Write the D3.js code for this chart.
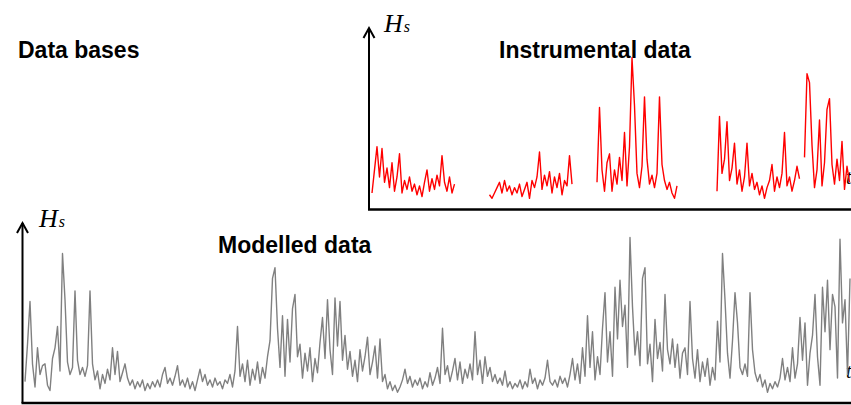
<!DOCTYPE html>
<html>
<head>
<meta charset="utf-8">
<script src="https://cdn.jsdelivr.net/npm/d3@7"></script>
<style>
  body { margin: 0; background: #fff; }
  svg { display: block; }
  .title { font-family: "Liberation Sans", Arial, sans-serif; font-weight: bold; font-size: 23px; fill: #000; }
  .hs { font-family: "Liberation Serif", "Times New Roman", serif; font-style: italic; fill: #000; }
</style>
</head>
<body>
<div id="chart"></div>
<script>
// Modelled Hs (grey), one value per time step, metres
const modelledHs = [
  1.2, 3.3, 5.7, 2.2, 0.9, 3.1, 1.6, 2.1, 2.2, 1.0, 0.7, 2.5, 3.1, 4.3, 1.8, 8.4, 5.8, 2.3, 1.6, 2.0,
  6.3, 2.4, 1.6, 2.0, 1.5, 2.1, 6.3, 2.2, 1.3, 1.8, 0.8, 1.6, 1.1, 1.9, 1.3, 3.1, 1.6, 2.9, 1.2, 1.7,
  2.2, 1.4, 1.0, 1.3, 0.8, 1.2, 0.9, 1.3, 0.7, 1.1, 0.8, 1.2, 0.9, 1.3, 0.9, 1.6, 2.0, 1.1, 1.4, 1.0,
  1.5, 2.1, 1.0, 1.3, 0.9, 1.4, 0.8, 1.2, 0.7, 1.3, 1.9, 1.2, 1.6, 1.0, 1.3, 0.9, 1.4, 1.0, 1.2, 0.8,
  1.3, 1.1, 1.6, 0.9, 1.8, 4.3, 1.5, 2.2, 1.2, 2.4, 1.0, 1.9, 1.3, 2.3, 1.1, 2.0, 1.4, 2.6, 3.5, 7.0,
  7.6, 4.2, 2.0, 4.9, 1.5, 4.7, 2.3, 5.3, 6.1, 2.6, 3.3, 1.4, 2.8, 1.8, 3.1, 1.2, 2.5, 1.7, 3.4, 4.8,
  2.5, 5.8, 3.0, 1.6, 5.9, 3.2, 5.7, 2.4, 3.8, 1.9, 2.9, 1.5, 2.4, 1.2, 3.0, 1.8, 2.6, 3.7, 1.6, 2.3,
  3.2, 1.4, 3.6, 1.2, 1.6, 0.8, 1.2, 0.7, 1.0, 0.6, 0.9, 1.3, 1.9, 1.1, 1.5, 0.9, 1.3, 1.0, 1.4, 0.8,
  1.2, 0.9, 1.7, 1.0, 1.4, 2.0, 1.1, 4.2, 1.6, 2.1, 1.2, 1.8, 2.5, 1.3, 2.3, 1.1, 1.9, 1.4, 2.2, 1.3,
  4.0, 1.6, 2.4, 1.1, 2.6, 1.5, 2.0, 1.2, 1.6, 1.1, 1.4, 1.0, 1.8, 0.9, 1.2, 0.8, 1.1, 0.9, 1.3, 0.8,
  1.2, 0.9, 1.9, 1.1, 1.4, 0.8, 1.3, 1.0, 1.4, 2.4, 1.2, 1.0, 1.3, 0.9, 1.5, 1.1, 1.4, 0.9, 1.6, 2.5,
  1.3, 2.2, 1.1, 3.1, 1.5, 4.9, 2.0, 4.0, 1.3, 2.6, 1.6, 4.2, 6.2, 2.3, 4.0, 1.5, 6.5, 3.6, 6.9, 4.3,
  5.5, 2.0, 9.3, 5.4, 2.7, 4.0, 2.1, 7.0, 7.6, 2.2, 3.3, 1.2, 4.7, 2.5, 3.4, 1.8, 6.1, 3.0, 2.2, 3.6,
  2.0, 3.3, 1.4, 2.8, 3.1, 1.6, 5.7, 2.5, 1.4, 3.0, 1.2, 2.3, 1.5, 2.5, 1.0, 2.0, 1.3, 4.6, 2.3, 8.4,
  5.8, 2.8, 1.4, 3.5, 6.2, 4.5, 2.0, 1.6, 2.2, 1.5, 6.2, 3.0, 1.7, 1.2, 1.6, 0.9, 1.3, 0.6, 1.1, 0.8,
  1.2, 0.9, 1.4, 2.5, 1.3, 2.0, 1.2, 3.1, 1.4, 2.2, 4.8, 2.4, 4.5, 1.0, 2.8, 3.8, 6.1, 2.6, 1.0, 6.5,
  4.0, 6.9, 3.0, 6.1, 5.4, 1.4, 9.2, 4.5, 5.8, 1.6, 7.0
];

// Instrumental Hs (red), same step; null = no record (gaps between campaigns)
const instrumentalHs = [
  0.9, 2.2, 3.5, 1.8, 3.4, 1.5, 2.3, 1.2, 2.6, 1.0, 1.8, 3.1, 0.9, 1.6, 1.1, 1.8, 1.0, 1.4, 0.8, 1.3,
  0.7, 1.5, 2.2, 1.0, 1.7, 1.1, 1.9, 1.3, 3.0, 1.5, 1.0, 1.8, 0.9, 1.4,
  null, null, null, null, null, null, null, null, null, null, null, null, null,
  0.8, 0.6, 0.9, 1.2, 1.5, 0.9, 1.6, 1.0, 1.3, 0.8, 1.2, 0.9, 1.4, 0.7, 1.1, 1.5, 0.6, 1.6, 1.2, 1.8,
  3.2, 1.1, 1.9, 1.3, 2.1, 0.9, 1.8, 1.2, 2.0, 0.8, 1.6, 1.3, 3.0, 1.4,
  null, null, null, null, null, null, null, null, null,
  1.5, 5.7, 2.2, 1.0, 2.6, 3.1, 1.0, 2.2, 1.4, 2.9, 1.6, 4.3, 1.3, 3.5, 8.5, 5.8, 2.0, 1.2, 2.4, 6.3,
  2.8, 1.4, 1.9, 1.2, 2.0, 6.3, 2.5, 1.6, 1.1, 1.5, 0.9, 0.6, 1.3,
  null, null, null, null, null, null, null, null, null, null, null, null, null, null, null,
  1.0, 5.2, 2.0, 2.8, 4.9, 1.6, 2.3, 3.7, 1.4, 2.2, 1.0, 1.8, 3.7, 1.3, 2.0, 1.1, 1.5, 0.8, 1.3, 0.6,
  1.2, 1.6, 2.5, 1.0, 1.8, 1.2, 2.0, 4.3, 1.3, 1.8, 1.0, 1.6, 2.4, 1.7,
  null,
  2.9, 7.6, 7.1, 3.6, 1.2, 2.2, 5.0, 1.3, 2.6, 5.6, 6.2, 2.5, 1.4, 2.8, 1.6, 3.8, 1.1, 2.4, 1.5
];

const hsDomain = [0, 10];

const width = 851, height = 405;

const svg = d3.select("#chart").append("svg")
    .attr("width", width)
    .attr("height", height);

// scales for the two panels
let xTop = d3.scaleLinear().domain([0, instrumentalHs.length - 1]).range([372, 849.5]);
let yTop = d3.scaleLinear().domain(hsDomain).range([209, 31]);
let xBot = d3.scaleLinear().domain([0, modelledHs.length - 1]).range([25, 850]);
let yBot = d3.scaleLinear().domain(hsDomain).range([403, 225]);

// axis with an open arrow head on the y axis
function drawAxes(x0, yBase, yTopPx, xEnd) {
    let g = svg.append("g").attr("fill", "none").attr("stroke", "#000");
    g.append("line")
        .attr("x1", x0).attr("x2", x0)
        .attr("y1", yBase).attr("y2", yTopPx)
        .attr("stroke-width", 2);
    g.append("line")
        .attr("x1", x0 - 1).attr("x2", xEnd)
        .attr("y1", yBase).attr("y2", yBase)
        .attr("stroke-width", 2.5);
    g.append("path")
        .attr("d", `M${x0 - 5.5},${yTopPx + 10}L${x0},${yTopPx}L${x0 + 5.5},${yTopPx + 10}`)
        .attr("stroke-width", 2);
}

drawAxes(369, 209.5, 28, 851);
drawAxes(22.5, 403, 223, 851);

// titles
svg.append("text").attr("class", "title").attr("x", 18).attr("y", 58).text("Data bases");
svg.append("text").attr("class", "title").attr("x", 499).attr("y", 58).text("Instrumental data");
svg.append("text").attr("class", "title").attr("x", 218).attr("y", 253).text("Modelled data");

// Hs labels
function hsLabel(x, y) {
    let t = svg.append("text").attr("class", "hs").attr("x", x).attr("y", y);
    t.append("tspan").attr("font-size", 26).text("H");
    t.append("tspan").attr("font-size", 16).attr("dx", 1).text("s");
}
hsLabel(384, 32);
hsLabel(39, 227);

// time labels, cut by the page edge like in the original
svg.append("text").attr("class", "hs").attr("font-size", 20).attr("x", 846).attr("y", 184).text("t");
svg.append("text").attr("class", "hs").attr("font-size", 20).attr("x", 846).attr("y", 378).text("t");

// modelled series
let lineBot = d3.line()
    .x((d, i) => xBot(i))
    .y(d => yBot(d));

svg.append("path")
    .datum(modelledHs)
    .attr("fill", "none")
    .attr("stroke", "#808080")
    .attr("stroke-width", 1.4)
    .attr("stroke-linejoin", "round")
    .attr("d", lineBot);

// instrumental series, broken where there is no record
let lineTop = d3.line()
    .defined(d => d !== null)
    .x((d, i) => xTop(i))
    .y(d => yTop(d));

svg.append("path")
    .datum(instrumentalHs)
    .attr("fill", "none")
    .attr("stroke", "#ff0000")
    .attr("stroke-width", 1.4)
    .attr("stroke-linejoin", "round")
    .attr("d", lineTop);
</script>
</body>
</html>
